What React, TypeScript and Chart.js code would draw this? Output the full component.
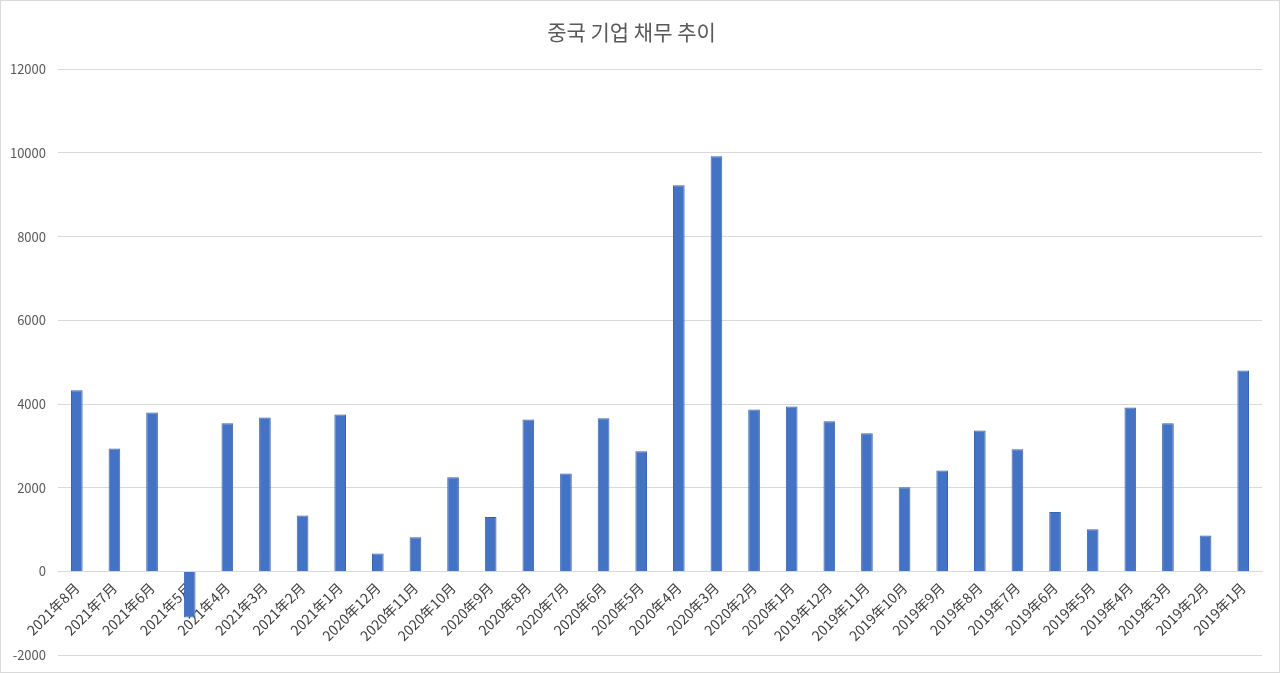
import { useEffect, useRef } from 'react';
import { Chart, registerables } from 'chart.js';

Chart.register(...registerables);

const months = [
  '2021年8月', '2021年7月', '2021年6月', '2021年5月', '2021年4月', '2021年3月', '2021年2月', '2021年1月',
  '2020年12月', '2020年11月', '2020年10月', '2020年9月', '2020年8月', '2020年7月', '2020年6月', '2020年5月',
  '2020年4月', '2020年3月', '2020年2月', '2020年1月', '2019年12月', '2019年11月', '2019年10月', '2019年9月',
  '2019年8月', '2019年7月', '2019年6月', '2019年5月', '2019年4月', '2019年3月', '2019年2月', '2019年1月',
];

const debt = [
  4330, 2940, 3800, -1100, 3540, 3680, 1340, 3750,
  430, 820, 2250, 1300, 3630, 2340, 3660, 2870,
  9230, 9920, 3870, 3940, 3590, 3300, 2010, 2410,
  3370, 2920, 1420, 1010, 3920, 3540, 860, 4800,
];

const yMin = -2000;
const yMax = 12000;
const yStep = 2000;

const FONT = "'Noto Sans CJK KR', 'Open Sans', sans-serif";

const DebtChart = () => {
  const chartRef = useRef<HTMLCanvasElement>(null);
  const chartInstance = useRef<Chart | null>(null);

  useEffect(() => {
    if (!chartRef.current) return;
    if (chartInstance.current) chartInstance.current.destroy();

    const ctx = chartRef.current.getContext('2d');
    if (ctx) {
      chartInstance.current = new Chart(ctx, {
        type: 'bar',
        data: {
          labels: months,
          datasets: [
            {
              label: '중국 기업 채무',
              data: debt,
              backgroundColor: '#4472C4',
              borderColor: '#3A64B0',
              borderWidth: 1,
              categoryPercentage: 1,
              barPercentage: 0.31,
            },
          ],
        },
        options: {
          responsive: true,
          maintainAspectRatio: false,
          animation: false,
          layout: {
            padding: { left: 0, right: 17, top: 10, bottom: 8 },
          },
          plugins: {
            legend: { display: false },
            tooltip: { enabled: false },
            title: {
              display: true,
              text: '중국 기업 채무 추이',
              color: '#595959',
              font: { family: FONT, size: 21, weight: 'normal' },
              padding: { top: 8, bottom: 25 },
            },
          },
          scales: {
            x: {
              position: { y: 0 },
              grid: { display: false },
              border: { color: '#d9d9d9' },
              afterFit: (scale) => {
                // let the rotated labels run over the y labels, like the original
                scale.paddingLeft = 0;
                scale.paddingRight = 0;
              },
              ticks: {
                color: '#404040',
                font: { family: FONT, size: 14 },
                minRotation: 45,
                maxRotation: 45,
                autoSkip: false,
                padding: 0,
              },
            },
            y: {
              min: yMin,
              max: yMax,
              grid: { color: '#d9d9d9', drawTicks: false },
              border: { display: false },
              afterFit: (scale) => {
                scale.width = 57;
              },
              ticks: {
                stepSize: yStep,
                color: '#595959',
                font: { family: FONT, size: 13 },
                padding: 12,
                callback: (value) => String(value),
              },
            },
          },
        },
      });
    }

    return () => {
      if (chartInstance.current) {
        chartInstance.current.destroy();
        chartInstance.current = null;
      }
    };
  }, []);

  return <canvas ref={chartRef} />;
};

const App = () => {
  return (
    <div
      style={{
        position: 'fixed',
        left: 0,
        top: 0,
        width: 1280,
        height: 673,
        boxSizing: 'border-box',
        border: '1px solid #d9d9d9',
        background: '#ffffff',
        overflow: 'hidden',
      }}
    >
      <div style={{ position: 'relative', width: 1278, height: 674 }}>
        <DebtChart />
      </div>
    </div>
  );
};

export default App;
